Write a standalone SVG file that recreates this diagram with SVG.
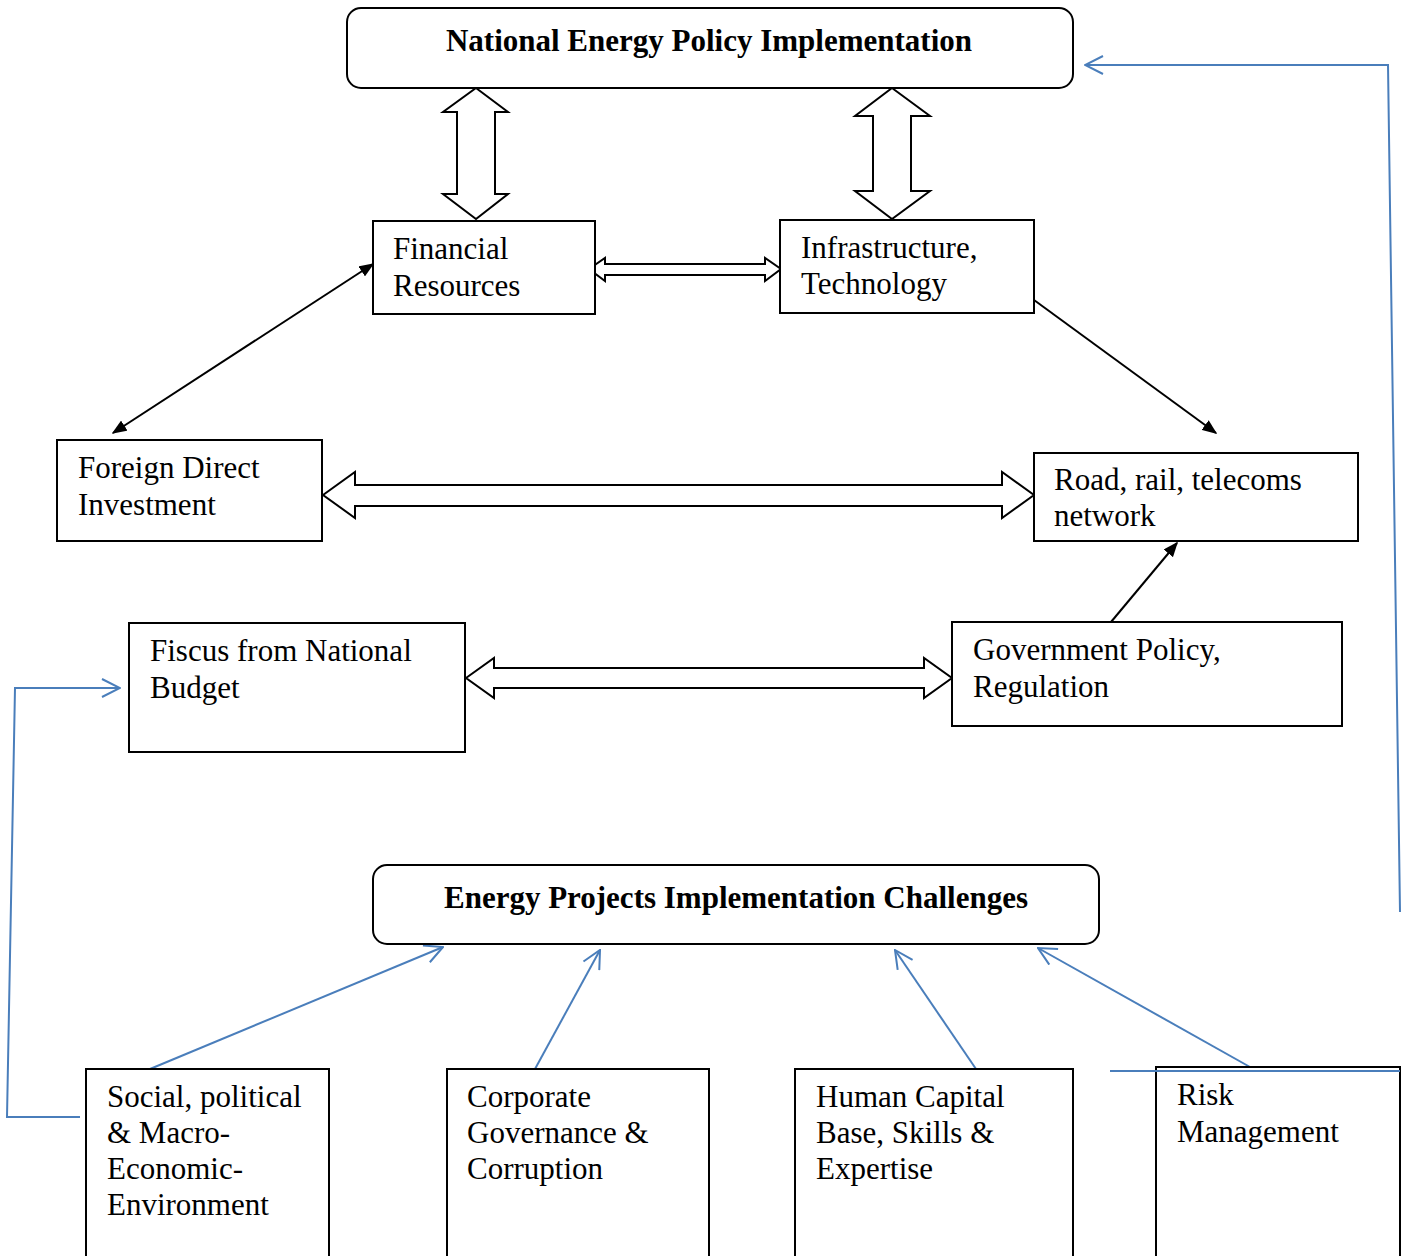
<svg xmlns="http://www.w3.org/2000/svg" width="1408" height="1256" viewBox="0 0 1408 1256">
<style>
.box{fill:#fff;stroke:#000;stroke-width:2}
.t{font-family:"Liberation Serif","Times New Roman",serif;font-size:31px;fill:#000}
.tb{font-family:"Liberation Serif","Times New Roman",serif;font-size:31px;font-weight:bold;fill:#000}
.blk{fill:#fff;stroke:#000;stroke-width:2;stroke-linejoin:miter}
.ln{stroke:#000;stroke-width:2;fill:none}
.bl{stroke:#4a7ebb;stroke-width:2;fill:none}
</style>
<defs>
<marker id="ah" viewBox="0 0 10 10" refX="9" refY="5" markerWidth="15" markerHeight="12" orient="auto-start-reverse" markerUnits="userSpaceOnUse" preserveAspectRatio="none">
<path d="M0,0 L10,5 L0,10 z" fill="#000"/>
</marker>
<marker id="oh" viewBox="0 0 20 20" refX="19" refY="10" markerWidth="20" markerHeight="20" orient="auto" markerUnits="userSpaceOnUse">
<path d="M1,1 L19,10 L1,19" fill="none" stroke="#4a7ebb" stroke-width="2"/>
</marker>
</defs>
<rect width="1408" height="1256" fill="#fff"/>

<g id="connectors">
<polygon class="blk" points="476,88 508,112 495,112 495,194 508,194 476,219 443,194 457,194 457,112 443,112"/>
<polygon class="blk" points="892,88 930,116 911,116 911,191 930,191 892,219 855,191 873,191 873,116 855,116"/>
<polygon class="blk" points="589,269 605,258 605,264 765,264 765,258 781,269 765,281 765,275 605,275 605,281"/>
<polygon class="blk" points="323,495 355,472 355,485 1002,485 1002,472 1034,495 1002,518 1002,506 355,506 355,518"/>
<polygon class="blk" points="466,678 494,658 494,668 924,668 924,658 952,678 924,698 924,688 494,688 494,698"/>
<line class="ln" x1="373" y1="264" x2="113" y2="433" marker-start="url(#ah)" marker-end="url(#ah)"/>
<line class="ln" x1="1034" y1="300" x2="1216" y2="433" marker-end="url(#ah)"/>
<line class="ln" x1="1111" y1="622" x2="1177" y2="543" marker-end="url(#ah)"/>
<line class="bl" x1="150" y1="1069" x2="443" y2="947" marker-end="url(#oh)"/>
<line class="bl" x1="535" y1="1069" x2="600" y2="950" marker-end="url(#oh)"/>
<line class="bl" x1="976" y1="1069" x2="895" y2="950" marker-end="url(#oh)"/>
<line class="bl" x1="1250" y1="1067" x2="1038" y2="948" marker-end="url(#oh)"/>
<polyline class="bl" points="80,1117 7,1117 15,688 120,688" marker-end="url(#oh)"/>
<polyline class="bl" points="1400,912 1388,65 1085,65" marker-end="url(#oh)"/>
</g>

<g id="national-energy-policy">
<rect class="box" x="347" y="8" width="726" height="80" rx="14"/>
<text class="tb" x="709" y="51" text-anchor="middle">National Energy Policy Implementation</text>
</g>
<g id="financial-resources">
<rect class="box" x="373" y="221" width="222" height="93"/>
<text class="t" x="393" y="259">Financial</text>
<text class="t" x="393" y="296">Resources</text>
</g>
<g id="infrastructure">
<rect class="box" x="780" y="220" width="254" height="93"/>
<text class="t" x="801" y="258">Infrastructure,</text>
<text class="t" x="801" y="294">Technology</text>
</g>
<g id="fdi">
<rect class="box" x="57" y="440" width="265" height="101"/>
<text class="t" x="78" y="478">Foreign Direct</text>
<text class="t" x="78" y="515">Investment</text>
</g>
<g id="road-rail">
<rect class="box" x="1034" y="453" width="324" height="88"/>
<text class="t" x="1054" y="490">Road, rail, telecoms</text>
<text class="t" x="1054" y="526">network</text>
</g>
<g id="fiscus">
<rect class="box" x="129" y="623" width="336" height="129"/>
<text class="t" x="150" y="661">Fiscus from National</text>
<text class="t" x="150" y="698">Budget</text>
</g>
<g id="gov-policy">
<rect class="box" x="952" y="622" width="390" height="104"/>
<text class="t" x="973" y="660">Government Policy,</text>
<text class="t" x="973" y="697">Regulation</text>
</g>
<g id="challenges">
<rect class="box" x="373" y="865" width="726" height="79" rx="14"/>
<text class="tb" x="736" y="908" text-anchor="middle">Energy Projects Implementation Challenges</text>
</g>
<g id="social">
<rect class="box" x="86" y="1069" width="243" height="200"/>
<text class="t" x="107" y="1107">Social, political</text>
<text class="t" x="107" y="1143">&amp; Macro-</text>
<text class="t" x="107" y="1179">Economic-</text>
<text class="t" x="107" y="1215">Environment</text>
</g>
<g id="corporate">
<rect class="box" x="447" y="1069" width="262" height="200"/>
<text class="t" x="467" y="1107">Corporate</text>
<text class="t" x="467" y="1143">Governance &amp;</text>
<text class="t" x="467" y="1179">Corruption</text>
</g>
<g id="human-capital">
<rect class="box" x="795" y="1069" width="278" height="200"/>
<text class="t" x="816" y="1107">Human Capital</text>
<text class="t" x="816" y="1143">Base, Skills &amp;</text>
<text class="t" x="816" y="1179">Expertise</text>
</g>
<g id="risk">
<rect class="box" x="1156" y="1067" width="244" height="200"/>
<text class="t" x="1177" y="1105">Risk</text>
<text class="t" x="1177" y="1142">Management</text>
<line class="bl" x1="1110" y1="1071" x2="1400" y2="1071"/>
</g>
</svg>
